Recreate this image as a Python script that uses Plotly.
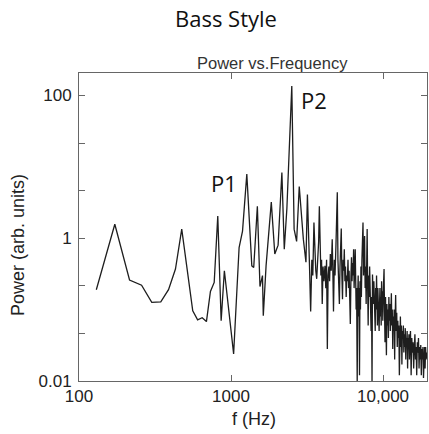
import plotly.graph_objects as go

# ---- data ----
freq_hz = [
    130, 172, 215, 258, 301, 345, 388, 431, 474, 517, 560, 603, 646, 689, 732, 775,
    818, 861, 904, 1040, 1130, 1190, 1270, 1370, 1410, 1490, 1550, 1610, 1630, 1700,
    1840, 1940, 2040, 2160, 2240, 2330, 2510, 2600, 2700, 2810, 2900, 2990, 3110,
    3180, 3280, 3340, 3400, 3450, 3510, 3560, 3610, 3660, 3720, 3770, 3810, 3860,
    3900, 3940, 3980, 4030, 4080, 4150, 4200, 4250, 4300, 4350, 4400, 4450, 4500,
    4560, 4630, 4680, 4720, 4780, 4830, 4900, 4950, 5000, 5050, 5110, 5160, 5210,
    5260, 5310, 5360, 5410, 5460, 5510, 5560, 5610, 5660, 5720, 5770, 5820, 5880,
    5930, 5980, 6040, 6090, 6150, 6200, 6250, 6300, 6350, 6400, 6450, 6500, 6560,
    6600, 6650, 6700, 6760, 6810, 6860, 6900, 6950, 7000, 7050, 7100, 7150, 7200,
    7260, 7320, 7380, 7440, 7500, 7560, 7620, 7680, 7740, 7800, 7860, 7920, 7980,
    8040, 8100, 8160, 8220, 8280, 8340, 8400, 8460, 8520, 8580, 8640, 8700, 8760,
    8820, 8880, 8940, 9000, 9060, 9120, 9180, 9240, 9300, 9360, 9420, 9480, 9540,
    9600, 9660, 9720, 9780, 9840, 9900, 9960, 10050, 10150, 10220, 10300, 10380,
    10450, 10520, 10600, 10680, 10760, 10840, 10920, 11000, 11080, 11160, 11250,
    11340, 11420, 11500, 11580, 11660, 11740, 11830, 11920, 12000, 12100, 12200,
    12300, 12400, 12500, 12600, 12700, 12800, 12900, 13000, 13100, 13200, 13300,
    13400, 13500, 13600, 13700, 13800, 13900, 14000, 14100, 14200, 14300, 14400,
    14500, 14600, 14700, 14800, 14900, 15000, 15150, 15300, 15450, 15600, 15750,
    15900, 16050, 16200, 16350, 16500, 16650, 16800, 16950, 17100, 17250, 17400,
    17550, 17700, 17850, 18000, 18150, 18300, 18450, 18600, 18750, 18900, 19050,
    19200, 19400,
]
power = [
    0.19, 1.57, 0.26, 0.22, 0.126, 0.128, 0.19, 0.37, 1.34, 0.37, 0.096, 0.072, 0.077, 0.068, 0.18, 0.24,
    2.05, 0.07, 0.35, 0.024, 0.74, 1.26, 7.9, 0.41, 0.39, 2.8, 0.21, 0.30, 0.082, 0.41,
    3.2, 0.6, 0.8, 8.3, 0.7, 2.6, 135, 1.34, 0.9, 5.3, 2.0, 0.97, 0.46,
    4.1, 0.43, 0.094, 0.5, 0.3, 1.66, 0.6, 0.35, 0.27, 0.5, 0.9, 2.8, 0.6,
    0.3, 0.5, 0.12, 0.4, 0.25, 0.41, 0.2, 0.5, 0.028, 0.3, 0.4, 0.25, 0.6,
    0.35, 0.97, 0.3, 0.094, 0.5, 0.3, 0.8, 1.5, 4.4, 0.5, 0.2, 0.12, 0.4,
    0.6, 1.37, 0.3, 0.14, 0.5, 0.35, 0.7, 0.25, 0.4, 0.15, 0.3, 0.25, 0.5,
    0.2, 0.35, 0.15, 0.063, 0.3, 0.54, 0.25, 0.45, 0.3, 0.7, 0.2, 0.4, 0.7,
    0.3, 0.1, 0.2, 0.009, 0.15, 0.3, 0.08, 0.2, 0.012, 0.25, 0.1, 0.4, 0.15,
    0.5, 0.9, 1.66, 0.3, 0.5, 1.07, 0.2, 0.4, 0.12, 0.25, 1.34, 0.2, 0.06,
    0.3, 0.15, 0.4, 0.1, 0.2, 0.05, 0.15, 0.009, 0.31, 0.2, 0.12, 0.25, 0.075,
    0.15, 0.05, 0.2, 0.1, 0.3, 0.12, 0.06, 0.2, 0.1, 0.15, 0.05, 0.12, 0.2,
    0.08, 0.15, 0.06, 0.25, 0.1, 0.18, 0.07, 0.2, 0.37, 0.1, 0.035, 0.15,
    0.08, 0.023, 0.12, 0.06, 0.1, 0.04, 0.15, 0.07, 0.12, 0.05, 0.09,
    0.17, 0.06, 0.1, 0.028, 0.08, 0.05, 0.1, 0.02, 0.07, 0.16, 0.05,
    0.09, 0.03, 0.07, 0.04, 0.06, 0.012, 0.05, 0.08, 0.03, 0.06, 0.017,
    0.05, 0.041, 0.06, 0.025, 0.045, 0.03, 0.055, 0.02, 0.04, 0.035, 0.05,
    0.015, 0.04, 0.03, 0.045, 0.02, 0.035, 0.05, 0.012, 0.04, 0.025, 0.035,
    0.015, 0.03, 0.045, 0.02, 0.03, 0.012, 0.035, 0.025, 0.04, 0.015, 0.03,
    0.02, 0.032, 0.012, 0.028, 0.02, 0.03, 0.011, 0.025, 0.03, 0.015, 0.03,
    0.02, 0.025,
]
x_tick_vals = [100, 1000, 10000]
x_tick_text = ["100", "1000", "10,000"]
y_tick_vals = [100, 21.544, 4.6416, 1, 0.21544, 0.046416, 0.01]
y_tick_text = ["100", "", "", "1", "", "", "0.01"]

title_text = "Bass Style"
subtitle_text = "Power vs.Frequency"
x_title = "f (Hz)"
y_title = "Power (arb. units)"
peak_labels = [("P1", 0.418, 0.643), ("P2", 0.674, 0.912)]

fig = go.Figure()
fig.add_trace(go.Scatter(x=freq_hz, y=power, mode="lines",
                         line=dict(color="#1e1e1e", width=1.3), showlegend=False))

axis_common = dict(type="log", showgrid=False, zeroline=False, showline=True,
                   linecolor="#666666", linewidth=1, mirror="ticks", ticks="inside",
                   ticklen=6, tickcolor="#666666", tickwidth=1,
                   tickfont=dict(family="Liberation Sans, Arial", size=17, color="#222222"))

fig.update_xaxes(range=[2, 4.289], tickvals=x_tick_vals, ticktext=x_tick_text, **axis_common)
fig.update_yaxes(range=[-2, 2.314], tickvals=y_tick_vals, ticktext=y_tick_text,
                 ticklabelstandoff=3, **axis_common)

ann = []
ann.append(dict(text=title_text, x=0.421, y=1.1786, xref="paper", yref="paper",
                xanchor="center", yanchor="middle", showarrow=False,
                font=dict(family="Open Sans", size=22, color="#111111")))
ann.append(dict(text=subtitle_text, x=0.5546, y=1.0325, xref="paper", yref="paper",
                xanchor="center", yanchor="middle", showarrow=False,
                font=dict(family="Liberation Sans, Arial", size=16.5, color="#333333")))
for lbl, px, py in peak_labels:
    ann.append(dict(text=lbl, x=px, y=py, xref="paper", yref="paper",
                    xanchor="center", yanchor="middle", showarrow=False,
                    font=dict(family="Open Sans", size=22, color="#111111")))
ann.append(dict(text=x_title, x=0.503, y=-0.122, xref="paper", yref="paper",
                xanchor="center", yanchor="middle", showarrow=False,
                font=dict(family="Liberation Sans, Arial", size=18, color="#222222")))
ann.append(dict(text=y_title, x=-0.175, y=0.4416, xref="paper", yref="paper",
                xanchor="center", yanchor="middle", showarrow=False, textangle=-90,
                font=dict(family="Liberation Sans, Arial", size=18, color="#222222")))

fig.update_layout(width=429, height=434, margin=dict(l=79, r=2, t=73, b=53),
                  paper_bgcolor="white", plot_bgcolor="white", annotations=ann)

fig.write_html("out.html")
